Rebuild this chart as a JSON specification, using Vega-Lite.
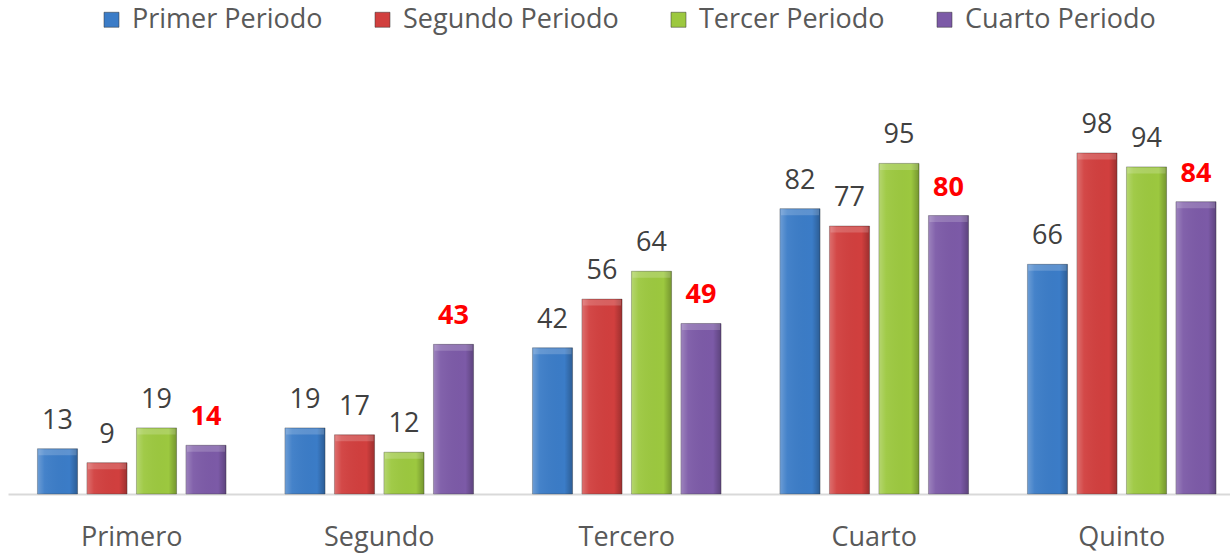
{
  "$schema": "https://vega.github.io/schema/vega-lite/v6.json",
  "width": 1222,
  "height": 348,
  "autosize": {"type": "none"},
  "padding": {"left": 8, "top": 146, "right": 0, "bottom": 59},
  "background": "white",
  "config": {"view": {"stroke": null}, "font": "Open Sans"},
  "data": {
    "values": [
      {"Grupo": "Primero", "Periodo": "Primer Periodo", "Valor": 13},
      {"Grupo": "Primero", "Periodo": "Segundo Periodo", "Valor": 9},
      {"Grupo": "Primero", "Periodo": "Tercer Periodo", "Valor": 19},
      {"Grupo": "Primero", "Periodo": "Cuarto Periodo", "Valor": 14},
      {"Grupo": "Segundo", "Periodo": "Primer Periodo", "Valor": 19},
      {"Grupo": "Segundo", "Periodo": "Segundo Periodo", "Valor": 17},
      {"Grupo": "Segundo", "Periodo": "Tercer Periodo", "Valor": 12},
      {"Grupo": "Segundo", "Periodo": "Cuarto Periodo", "Valor": 43},
      {"Grupo": "Tercero", "Periodo": "Primer Periodo", "Valor": 42},
      {"Grupo": "Tercero", "Periodo": "Segundo Periodo", "Valor": 56},
      {"Grupo": "Tercero", "Periodo": "Tercer Periodo", "Valor": 64},
      {"Grupo": "Tercero", "Periodo": "Cuarto Periodo", "Valor": 49},
      {"Grupo": "Cuarto", "Periodo": "Primer Periodo", "Valor": 82},
      {"Grupo": "Cuarto", "Periodo": "Segundo Periodo", "Valor": 77},
      {"Grupo": "Cuarto", "Periodo": "Tercer Periodo", "Valor": 95},
      {"Grupo": "Cuarto", "Periodo": "Cuarto Periodo", "Valor": 80},
      {"Grupo": "Quinto", "Periodo": "Primer Periodo", "Valor": 66},
      {"Grupo": "Quinto", "Periodo": "Segundo Periodo", "Valor": 98},
      {"Grupo": "Quinto", "Periodo": "Tercer Periodo", "Valor": 94},
      {"Grupo": "Quinto", "Periodo": "Cuarto Periodo", "Valor": 84}
    ]
  },
  "encoding": {
    "x": {
      "field": "Grupo", "type": "nominal",
      "sort": ["Primero", "Segundo", "Tercero", "Cuarto", "Quinto"],
      "scale": {"range": [0, 1237.5], "paddingInner": 0.238, "paddingOuter": 0.119},
      "axis": {"title": null, "labelAngle": 0, "ticks": false, "grid": false, "domainColor": "#d9d9d9", "domainWidth": 2, "labelPadding": 30, "labelFontSize": 27, "labelColor": "#595959", "labelFont": "Open Sans"}
    },
    "xOffset": {
      "field": "Periodo", "type": "nominal",
      "sort": ["Primer Periodo", "Segundo Periodo", "Tercer Periodo", "Cuarto Periodo"],
      "scale": {"paddingInner": 0.19, "paddingOuter": 0}
    },
    "y": {"field": "Valor", "type": "quantitative", "scale": {"domain": [0, 100]}, "axis": null}
  },
  "layer": [
    {
      "mark": {"type": "bar", "stroke": "#333333", "strokeOpacity": 0.35, "strokeWidth": 1},
      "encoding": {
        "color": {
          "field": "Periodo", "type": "nominal",
          "scale": {"domain": ["Primer Periodo", "Segundo Periodo", "Tercer Periodo", "Cuarto Periodo"], "range": ["#3b7cc7", "#d13f3e", "#9cc83f", "#7c5aa7"]},
          "legend": {"orient": "none", "legendX": 90, "legendY": -140, "direction": "horizontal", "columns": 4, "title": null, "labelFontSize": 27, "labelColor": "#595959", "labelFont": "Open Sans", "labelLimit": 0, "symbolType": "square", "symbolSize": 225, "symbolOpacity": 1, "labelOffset": 7, "columnPadding": 46, "symbolStrokeColor": "#333333", "symbolStrokeWidth": 0.5, "padding": 0}
        }
      }
    },
    {
      "mark": {
        "type": "bar",
        "color": {"gradient": "linear", "x1": 0, "x2": 1, "y1": 0, "y2": 0, "stops": [
          {"offset": 0, "color": "rgba(255,255,255,0.25)"},
          {"offset": 0.18, "color": "rgba(255,255,255,0.05)"},
          {"offset": 0.8, "color": "rgba(0,0,0,0.0)"},
          {"offset": 1, "color": "rgba(0,0,0,0.25)"}
        ]}
      }
    },
    {
      "mark": {"type": "tick", "thickness": 6, "yOffset": 3.5, "size": 38, "color": "white", "opacity": 0.18}
    },
    {
      "transform": [{"filter": "datum.Periodo != 'Cuarto Periodo'"}],
      "mark": {"type": "text", "baseline": "alphabetic", "dy": -20, "fontSize": 27, "color": "#404040", "font": "Open Sans"},
      "encoding": {"text": {"field": "Valor", "type": "quantitative"}}
    },
    {
      "transform": [{"filter": "datum.Periodo == 'Cuarto Periodo'"}],
      "mark": {"type": "text", "baseline": "alphabetic", "dy": -20, "fontSize": 27, "fontWeight": "bold", "color": "#ff0000", "font": "Open Sans"},
      "encoding": {"text": {"field": "Valor", "type": "quantitative"}}
    }
  ]
}
